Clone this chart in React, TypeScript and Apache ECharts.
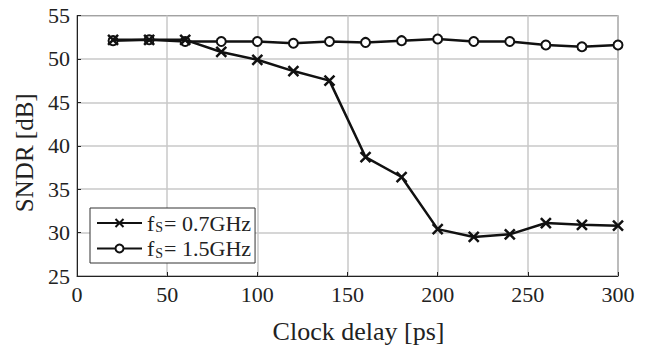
import React, { useEffect, useRef } from "react";
import * as echarts from "echarts";

const delays = [20, 40, 60, 80, 100, 120, 140, 160, 180, 200, 220, 240, 260, 280, 300];
const sndr07 = [52.2, 52.2, 52.2, 50.8, 49.9, 48.6, 47.5, 38.7, 36.4, 30.4, 29.5, 29.8, 31.1, 30.9, 30.8];
const sndr15 = [52.1, 52.2, 52.0, 52.0, 52.0, 51.8, 52.0, 51.9, 52.1, 52.3, 52.0, 52.0, 51.6, 51.4, 51.6];
const seriesNames = ["fs07", "fs15"];
const legendFreqs = ["0.7GHz", "1.5GHz"];

const FONT = "Liberation Serif";

export default function App() {
  const ref = useRef<HTMLDivElement>(null);
  useEffect(() => {
    const chart = echarts.init(ref.current!, null, { renderer: "svg" });
    const crossPath = "path://M0,0 L10,10 M10,0 L0,10";
    chart.setOption({
      animation: false,
      backgroundColor: "#fff",
      grid: {
        left: 77,
        right: 28,
        top: 15.5,
        bottom: 72.5,
        show: true,
        borderColor: "#333",
        borderWidth: 1,
      },
      xAxis: {
        type: "value",
        min: 0,
        max: 300,
        interval: 50,
        name: "Clock delay [ps]",
        nameLocation: "middle",
        nameGap: 42,
        nameTextStyle: { fontFamily: FONT, fontSize: 26, color: "#222", padding: [0, 0, 0, 22] },
        axisLine: { show: true, lineStyle: { color: "#222", width: 1 } },
        axisTick: { show: true, inside: true, length: 4, lineStyle: { color: "#222" } },
        axisLabel: { fontFamily: FONT, fontSize: 22, color: "#222", margin: 7 },
        splitLine: { show: true, lineStyle: { color: "#c8c8c8", width: 1.5 } },
      },
      yAxis: {
        type: "value",
        min: 25,
        max: 55,
        interval: 5,
        name: "SNDR [dB]",
        nameLocation: "middle",
        nameGap: 40,
        nameRotate: 90,
        nameTextStyle: { fontFamily: FONT, fontSize: 25, color: "#222", padding: [0, 14, 0, 0] },
        axisLine: { show: true, lineStyle: { color: "#222", width: 1 } },
        axisTick: { show: true, inside: true, length: 4, lineStyle: { color: "#222" } },
        axisLabel: { fontFamily: FONT, fontSize: 22, color: "#222", margin: 7 },
        splitLine: { show: true, lineStyle: { color: "#c8c8c8", width: 1.5 } },
      },
      legend: {
        orient: "vertical",
        left: 90,
        top: 208,
        backgroundColor: "#fff",
        borderColor: "#333",
        borderWidth: 1,
        borderRadius: 0,
        padding: [4, 4, 3, 6],
        itemGap: 3,
        itemWidth: 45,
        itemHeight: 10,
        data: seriesNames,
        formatter: (name: string) => {
          const i = seriesNames.indexOf(name);
          return "{f|f}{s|S}{t|= " + legendFreqs[i] + "}";
        },
        textStyle: {
          fontFamily: FONT,
          color: "#222",
          rich: {
            f: { fontFamily: FONT, fontSize: 22, lineHeight: 22, color: "#222" },
            s: { fontFamily: FONT, fontSize: 14, color: "#222", padding: [9, 1, 0, 1] },
            t: { fontFamily: FONT, fontSize: 22, lineHeight: 22, color: "#222" },
          },
        },
      },
      series: [
        {
          name: seriesNames[0],
          type: "line",
          data: delays.map((d, i) => [d, sndr07[i]]),
          symbol: crossPath,
          symbolSize: 10,
          lineStyle: { color: "#111", width: 2.5 },
          itemStyle: { color: "transparent", borderColor: "#111", borderWidth: 2.5 },
          z: 3,
        },
        {
          name: seriesNames[1],
          type: "line",
          data: delays.map((d, i) => [d, sndr15[i]]),
          symbol: "emptyCircle",
          symbolSize: 9,
          lineStyle: { color: "#111", width: 2.5 },
          itemStyle: { color: "#111", borderColor: "#111", borderWidth: 2.5 },
          z: 2,
        },
      ],
    });
    return () => chart.dispose();
  }, []);
  return <div ref={ref} style={{ width: 646, height: 349, position: "absolute", left: 0, top: 0 }} />;
}
